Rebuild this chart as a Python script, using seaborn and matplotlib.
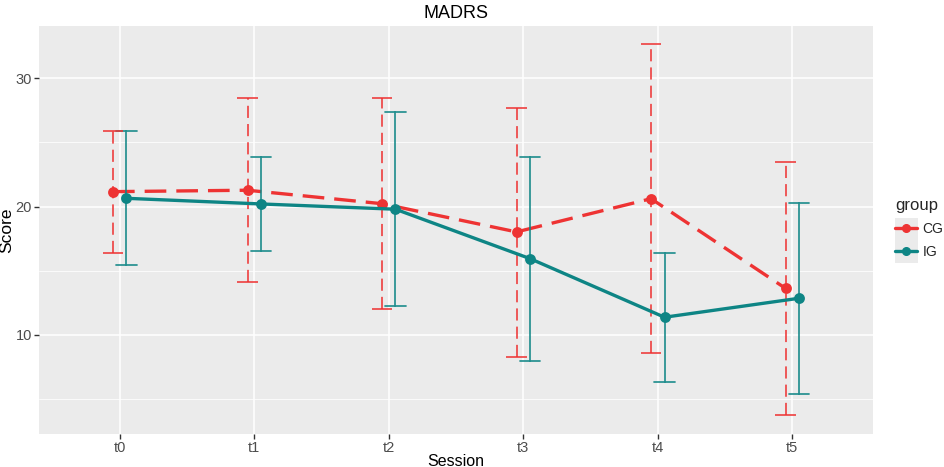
import numpy as np
import pandas as pd
import matplotlib
matplotlib.use("Agg")
import matplotlib.pyplot as plt
from matplotlib.lines import Line2D
from matplotlib.patches import Rectangle
import seaborn as sns

sessions = ["t0", "t1", "t2", "t3", "t4", "t5"]
groups = ["CG", "IG"]
cg_mean = [21.17, 21.28, 20.23, 18.03, 20.62, 13.63]
cg_lower = [16.41, 14.10, 12.00, 8.31, 8.62, 3.77]
cg_upper = [25.92, 28.47, 28.47, 27.72, 32.68, 23.45]
ig_mean = [20.65, 20.21, 19.80, 15.95, 11.38, 12.86]
ig_lower = [15.43, 16.52, 12.24, 8.00, 6.34, 5.40]
ig_upper = [25.87, 23.88, 27.40, 23.90, 16.41, 20.31]

RED = "#EE3333"
TEAL = "#0E8585"

rows = []
for g, lo, mn, up in [("CG", cg_lower, cg_mean, cg_upper), ("IG", ig_lower, ig_mean, ig_upper)]:
    for s, a, b, c in zip(sessions, lo, mn, up):
        for v in (a, b, c):
            rows.append({"Session": s, "group": g, "Score": v})
df = pd.DataFrame(rows)

sns.set_theme(style="darkgrid", rc={
    "axes.facecolor": "#EBEBEB",
    "grid.color": "white",
})
plt.rcParams["font.family"] = ["Liberation Sans", "DejaVu Sans"]

fig = plt.figure(figsize=(9.45, 4.67), dpi=100)
ax = fig.add_axes([39 / 945, 1 - 434 / 467, (873 - 39) / 945, (434 - 26) / 467])

sns.pointplot(
    data=df, x="Session", y="Score", hue="group",
    order=sessions, hue_order=groups,
    palette={"CG": RED, "IG": TEAL},
    estimator="median", errorbar=("pi", 100),
    dodge=0.1, capsize=0.15,
    markers="o", markersize=6, linewidth=2.4,
    err_kws={"linewidth": 1.25},
    ax=ax,
)

# style lines: CG dashed (error bars: dashed stem, solid caps)
for ln in list(ax.lines):
    col = matplotlib.colors.to_hex(ln.get_color())
    is_red = col.lower() == RED.lower()
    xs = np.asarray(ln.get_xdata(), dtype=float)
    ys = np.asarray(ln.get_ydata(), dtype=float)
    if len(xs) > 6:  # error bar with caps
        ln.set_alpha(0.9)
        if is_red:
            ln.set_data(xs[3:5], ys[3:5])
            ln.set_dashes((7, 3.5))
            for sl in (slice(0, 2), slice(6, 8)):
                ax.plot(xs[sl], ys[sl], color=ln.get_color(), alpha=0.9,
                        linewidth=ln.get_linewidth(), solid_capstyle="butt",
                        zorder=ln.get_zorder())
    else:
        if is_red:
            ln.set_dashes((6.5, 3))

if ax.get_legend() is not None:
    ax.get_legend().remove()

ax.set_ylim(2.28, 34.08)
ax.set_xlim(-0.6, 5.6)
ax.set_yticks([10, 20, 30])
ax.set_yticks([5, 15, 25], minor=True)
ax.grid(True, which="major", color="white", linewidth=1.1)
ax.grid(True, which="minor", axis="y", color="white", linewidth=0.55)
ax.tick_params(which="major", length=3.5, width=1.0, color="#333333",
               labelsize=10.5, labelcolor="#4D4D4D", pad=1.5, left=True, bottom=True)
ax.tick_params(which="minor", length=0)
for sp in ax.spines.values():
    sp.set_visible(False)

ax.set_xlabel("Session", fontsize=11.5, color="black", labelpad=-1)
ax.set_ylabel("Score", fontsize=12.5, color="black", labelpad=1)
ax.set_title("MADRS", fontsize=13, color="black", pad=6)

# legend
handles = [
    Line2D([], [], color=RED, linewidth=2.4, marker="o", markersize=5.5),
    Line2D([], [], color=TEAL, linewidth=2.4, marker="o", markersize=5.5),
]
fig.patches.append(Rectangle((895 / 945, 1 - 263 / 467), 23 / 945, 45 / 467,
                             transform=fig.transFigure, facecolor="#EBEBEB",
                             edgecolor="none", zorder=0))
leg = fig.legend(handles, groups, title="group", loc="upper left",
                 bbox_to_anchor=(888 / 945, 1 - 191 / 467), frameon=False,
                 fontsize=10, title_fontsize=12, handlelength=1.6,
                 handletextpad=0.4, borderpad=0, labelspacing=0.65,
                 alignment="left")

fig.savefig("out.png", dpi=100)
